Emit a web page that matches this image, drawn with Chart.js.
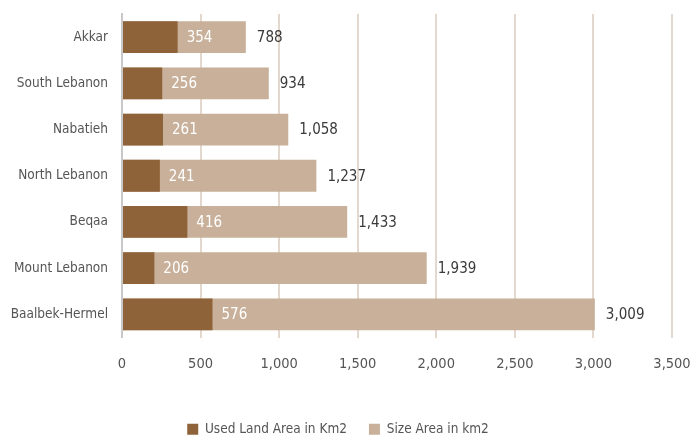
<!DOCTYPE html>
<html>
<head>
<meta charset="utf-8">
<script src="https://cdn.jsdelivr.net/npm/chart.js@4.4.0/dist/chart.umd.min.js"></script>
<style>
  html, body { margin: 0; padding: 0; background: #fff; overflow: hidden; height: 435px; }
  #wrap { width: 692px; height: 446px; }
</style>
</head>
<body>
<div id="wrap"><canvas id="landChart"></canvas></div>
<script>
    "use strict";

    // Data
    var regions = ["Akkar", "South Lebanon", "Nabatieh", "North Lebanon", "Beqaa", "Mount Lebanon", "Baalbek-Hermel"];
    var usedLand = [354, 256, 261, 241, 416, 206, 576];
    var sizeArea = [788, 934, 1058, 1237, 1433, 1939, 3009];
    var xTicks = [0, 500, 1000, 1500, 2000, 2500, 3000, 3500];

    var FONT = "'Liberation Sans Narrow', 'DejaVu Sans Condensed', sans-serif";
    var TEXT = "#555555";
    var fmt = function (v) { return v.toLocaleString("en-US"); };

    // Value labels: used inside (white), total outside (grey)
    var valueLabels = {
        id: "valueLabels",
        afterDatasetsDraw: function (chart) {
            var ctx = chart.ctx;
            ctx.save();
            ctx.font = "15px " + FONT;
            ctx.textBaseline = "middle";
            ctx.textAlign = "left";
            chart.getDatasetMeta(0).data.forEach(function (bar, i) {
                ctx.fillStyle = "#ffffff";
                ctx.fillText(fmt(usedLand[i]), bar.x + 9, bar.y + 1);
            });
            chart.getDatasetMeta(1).data.forEach(function (bar, i) {
                ctx.fillStyle = "#3a3a3a";
                ctx.fillText(fmt(sizeArea[i]), bar.x + 11, bar.y + 1);
            });
            ctx.restore();
        }
    };

    var ctx1 = document.getElementById("landChart").getContext("2d");
    var myChart1 = new Chart(ctx1, {
        type: "bar",
        data: {
            labels: regions,
            datasets: [{
                    label: "Used Land Area in Km2",
                    data: usedLand,
                    backgroundColor: "#8f633a",
                    grouped: false,
                    order: 1
                },
                {
                    label: "Size Area in km2",
                    data: sizeArea,
                    backgroundColor: "#c8b09a",
                    grouped: false,
                    order: 2
                }
            ]
        },
        options: {
            indexAxis: "y",
            responsive: true,
            maintainAspectRatio: false,
            animation: false,
            categoryPercentage: 0.8,
            barPercentage: 0.86,
            layout: { padding: { top: 14, right: 20, left: 4, bottom: 0 } },
            scales: {
                x: {
                    min: 0,
                    max: 3500,
                    afterBuildTicks: function (axis) {
                        axis.ticks = xTicks.map(function (v) { return { value: v }; });
                    },
                    afterFit: function (axis) {
                        axis.height = 63;
                        axis.paddingLeft = 0;
                        axis.paddingRight = 0;
                    },
                    grid: { color: "#e2d8cd", lineWidth: 2, drawTicks: false },
                    border: { display: false },
                    ticks: {
                        padding: 18,
                        color: TEXT,
                        font: { family: FONT, size: 14.5 },
                        callback: function (v) { return fmt(v); }
                    }
                },
                y: {
                    afterFit: function (axis) {
                        axis.width = 118;
                        axis.paddingTop = 0;
                        axis.paddingBottom = 0;
                    },
                    grid: { display: false, drawTicks: false },
                    border: { display: true, color: "#c8c8c8", width: 2 },
                    ticks: {
                        padding: 14,
                        color: TEXT,
                        font: { family: FONT, size: 13.5 }
                    }
                }
            },
            plugins: {
                legend: {
                    position: "bottom",
                    labels: {
                        boxWidth: 11,
                        boxHeight: 11,
                        padding: 22,
                        color: TEXT,
                        font: { family: FONT, size: 13.5 }
                    }
                },
                tooltip: { enabled: false }
            }
        },
        plugins: [valueLabels]
    });
</script>
</body>
</html>
